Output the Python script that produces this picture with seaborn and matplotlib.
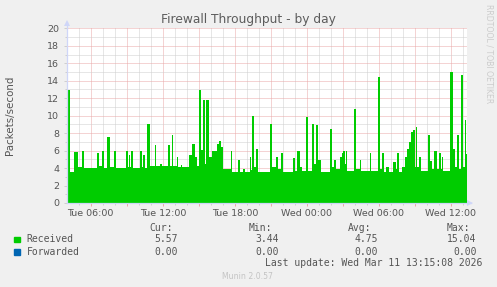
import numpy as np
import pandas as pd
import matplotlib
matplotlib.use("Agg")
import matplotlib.pyplot as plt
import seaborn as sns
from matplotlib.patches import Rectangle
from matplotlib.ticker import FixedLocator, FixedFormatter

# ---------------- data ----------------
title = "Firewall Throughput - by day"
y_label = "Packets/second"
x_tick_hours = [6, 12, 18, 24, 30, 36]          # hours since Tue 00:00
x_tick_labels = ["Tue 06:00", "Tue 12:00", "Tue 18:00",
                 "Wed 00:00", "Wed 06:00", "Wed 12:00"]
window_start_hour = 4.0                          # Tue 04:00
window_minutes = 2000

# start (minutes after window start) of each constant-rate stretch
seg_start_min = [
    0, 5, 15, 35, 55, 75, 85, 150, 160, 175,
    185, 200, 215, 235, 245, 295, 305, 310, 315, 320,
    330, 365, 375, 380, 390, 400, 415, 440, 445, 465,
    475, 505, 515, 525, 530, 550, 555, 570, 575, 610,
    625, 640, 650, 660, 670, 680, 690, 695, 710, 725,
    750, 760, 770, 780, 820, 825, 855, 865, 880, 890,
    915, 920, 925, 935, 945, 955, 1015, 1025, 1045, 1055,
    1070, 1080, 1130, 1140, 1150, 1165, 1175, 1195, 1205, 1225,
    1235, 1245, 1255, 1270, 1315, 1325, 1335, 1345, 1365, 1375,
    1380, 1390, 1395, 1400, 1435, 1445, 1465, 1470, 1515, 1520,
    1555, 1565, 1575, 1585, 1595, 1610, 1630, 1645, 1650, 1660,
    1675, 1690, 1700, 1710, 1720, 1730, 1740, 1745, 1750, 1760,
    1770, 1805, 1815, 1825, 1835, 1845, 1850, 1860, 1870, 1875,
    1880, 1915, 1930, 1940, 1950, 1960, 1970, 1980, 1990, 1995,
]
received = [
    3.5, 12.9, 3.5, 5.8, 4.1, 6.0, 4.0, 5.7, 4.2, 6.0,
    4.0, 7.6, 4.1, 6.0, 4.0, 6.0, 4.1, 5.5, 4.1, 6.0,
    4.0, 6.0, 4.1, 5.5, 4.0, 9.0, 4.2, 6.6, 4.2, 4.5,
    4.2, 6.6, 4.2, 7.8, 4.2, 5.3, 4.1, 4.4, 4.1, 5.5,
    6.7, 5.3, 4.2, 12.9, 6.1, 11.8, 4.5, 11.8, 5.3, 6.0,
    6.8, 7.1, 6.4, 3.9, 5.9, 3.6, 4.9, 3.6, 3.9, 3.6,
    5.3, 3.8, 10.0, 4.1, 6.2, 3.6, 9.1, 4.1, 5.3, 3.9,
    5.7, 3.6, 5.1, 3.7, 5.9, 4.1, 3.7, 9.9, 3.7, 9.1,
    4.5, 8.9, 4.9, 3.6, 8.5, 4.1, 4.9, 3.9, 5.3, 5.7,
    5.9, 4.5, 5.9, 3.7, 10.8, 3.9, 4.9, 3.7, 5.7, 3.7,
    14.4, 3.9, 5.7, 3.6, 4.1, 3.6, 4.7, 3.9, 5.7, 3.6,
    4.1, 5.3, 6.2, 7.0, 8.1, 8.3, 4.1, 8.7, 4.1, 5.3,
    3.7, 7.8, 4.8, 3.9, 5.9, 6.0, 3.9, 5.7, 3.9, 5.3,
    3.7, 15.0, 6.2, 4.1, 7.8, 3.9, 14.6, 4.1, 9.5, 5.57,
]

legend_series = ["Received", "Forwarded"]
legend_colors = ["#00cc00", "#0066b3"]
stat_headers = ["Cur:", "Min:", "Avg:", "Max:"]
received_stats = ["5.57", "3.44", "4.75", "15.04"]
forwarded_stats = ["0.00", "0.00", "0.00", "0.00"]
last_update = "Last update: Wed Mar 11 13:15:08 2026"
footer = "Munin 2.0.57"
watermark = "RRDTOOL / TOBI OETIKER"

# ---------------- figure ----------------
W, H = 497, 287
BG = "#f0f0f0"
FONT_C = "#555555"
AXIS_C = "#cfd6f8"
MAJ_C = "#eaa8a8"
MIN_C = "#cfcfcf"

fig = plt.figure(figsize=(W / 100, H / 100), dpi=100, facecolor=BG)
L, R, T, B = 66.7, 467.0, 28.3, 203.0
ax = fig.add_axes([L / W, 1 - B / H, (R - L) / W, (B - T) / H])
ax.set_facecolor("white")

edges_h = window_start_hour + np.array(seg_start_min + [window_minutes]) / 60.0
mid = (edges_h[:-1] + edges_h[1:]) / 2
df = pd.DataFrame({"hour": mid, "received": received})
sns.histplot(data=df, x="hour", weights="received", bins=[float(e) for e in edges_h],
             stat="count", element="step", fill=True, color=legend_colors[0], alpha=1,
             linewidth=0, ax=ax, zorder=2)

ax.set_xlim(edges_h[0], edges_h[-1])
ax.set_ylim(0, 20)
ax.set_xlabel("")
ax.set_ylabel("")

# ticks / grid
ax.yaxis.set_major_locator(FixedLocator(list(range(0, 21, 2))))
ax.yaxis.set_minor_locator(FixedLocator(list(range(1, 20, 2))))
maj_x = list(range(6, 37, 3))
ax.xaxis.set_major_locator(FixedLocator(maj_x))
lab_map = dict(zip(x_tick_hours, x_tick_labels))
ax.xaxis.set_major_formatter(FixedFormatter([lab_map.get(h, "") for h in maj_x]))
ax.xaxis.set_minor_locator(FixedLocator([h for h in range(5, 38) if h % 3]))

ax.set_axisbelow(True)
ax.grid(which="major", color=MAJ_C, linestyle=(0, (1, 1)), linewidth=0.72)
ax.grid(which="minor", color=MIN_C, linestyle=(0, (1, 1)), linewidth=0.72)

ax.tick_params(axis="both", which="major", direction="out", length=2.2, width=0.72,
               colors=FONT_C, labelsize=6.8)
ax.tick_params(axis="both", which="minor", direction="out", length=1.5, width=0.72)
ax.tick_params(axis="x", which="major", color=MAJ_C, pad=2.2)
ax.tick_params(axis="x", which="minor", color=MIN_C)
ax.tick_params(axis="y", which="major", color=MIN_C, pad=3.2)
ax.tick_params(axis="y", which="minor", color=MIN_C)
for lbl in ax.get_xticklabels() + ax.get_yticklabels():
    lbl.set_color(FONT_C)

for s in ["top", "right"]:
    ax.spines[s].set_visible(False)
for s in ["left", "bottom"]:
    ax.spines[s].set_color(AXIS_C)
    ax.spines[s].set_linewidth(0.9)
    ax.spines[s].set_zorder(3)

# axis arrows
ax.plot([0, 0], [1, 1.035], transform=ax.transAxes, color=AXIS_C, lw=0.9, clip_on=False)
ax.plot([1, 1.01], [0, 0], transform=ax.transAxes, color=AXIS_C, lw=0.9, clip_on=False)
ax.plot([0], [1.03], marker="^", markersize=4.2, color=AXIS_C, transform=ax.transAxes,
        clip_on=False, markeredgewidth=0)
ax.plot([1.008], [0], marker=">", markersize=4.2, color=AXIS_C, transform=ax.transAxes,
        clip_on=False, markeredgewidth=0)

# texts
def ft(x, y, s, **kw):
    fig.text(x / W, 1 - y / H, s, **kw)

ft(248, 19, title, ha="center", va="center", fontsize=8.8, color="#5c5c5c")
ft(10, 115, y_label, ha="center", va="center", rotation=90, fontsize=7.4, color=FONT_C)
ft(488.5, 4, watermark, ha="center", va="top", rotation=270, fontsize=5.6, color="#cccccc")

mono = dict(family="DejaVu Sans Mono", fontsize=7.0, color=FONT_C, va="center")
header_right = [172.5, 272.0, 371.0, 470.5]
value_right = [178.3, 279.0, 377.7, 476.7]
for h, x in zip(stat_headers, header_right):
    ft(x, 227.7, h, ha="right", **mono)
rows_y = [239.5, 251.7]
for name, col, stats, y in zip(legend_series, legend_colors,
                               [received_stats, forwarded_stats], rows_y):
    fig.patches.append(Rectangle((14 / W, 1 - (y + 2.8) / H), 5.6 / W, 5.6 / H,
                                 transform=fig.transFigure, color=col))
    ft(26.7, y, name, ha="left", **mono)
    for v, x in zip(stats, value_right):
        ft(x, y, v, ha="right", **mono)
ft(482.5, 263.3, last_update, ha="right", **mono)
ft(247.5, 276.5, footer, ha="center", va="center", fontsize=5.6, color="#c4c4c4")

fig.savefig("out.png", dpi=100, facecolor=BG)
